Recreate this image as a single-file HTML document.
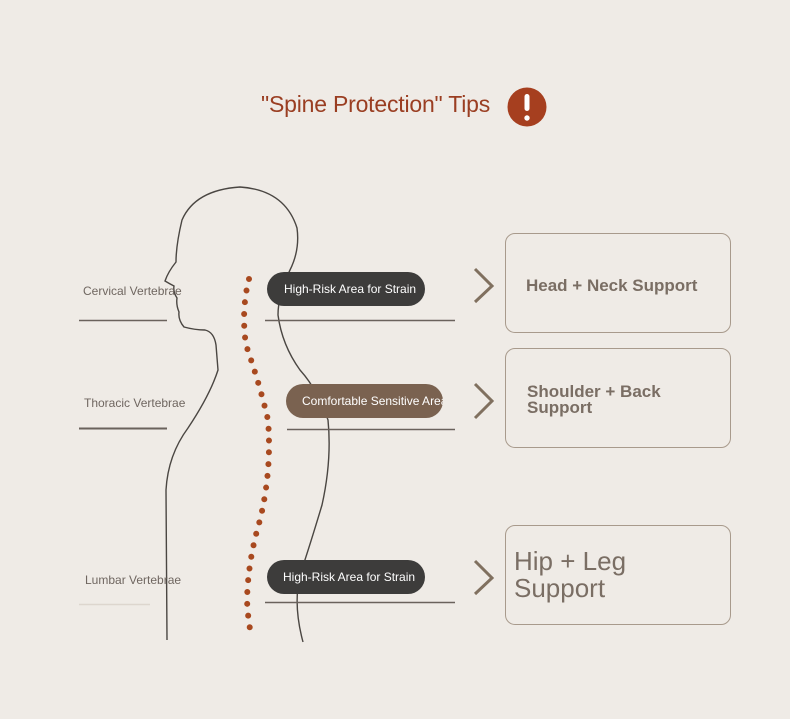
<!DOCTYPE html>
<html><head><meta charset="utf-8"><style>
html,body{margin:0;padding:0;background:#efebe6;}
body{width:790px;height:719px;position:relative;overflow:hidden;font-family:"Liberation Sans",sans-serif;}
.t{position:absolute;}
.lbl{position:absolute;font-size:12px;color:#6f6660;}
.pill{position:absolute;height:34px;border-radius:17px;color:#fff;font-size:12px;line-height:34px;box-sizing:border-box;white-space:nowrap;overflow:hidden;}
.box{position:absolute;left:505px;width:226px;height:100px;border:1.5px solid #a89a8c;border-radius:10px;box-sizing:border-box;color:#7a6e64;font-weight:600;}
</style></head><body>
<div class="t" style="left:261px;top:91px;font-size:23px;letter-spacing:-0.2px;color:#9a3e22;">"Spine Protection" Tips</div>
<svg class="t" style="left:0;top:0" width="790" height="719">
<circle cx="527" cy="107" r="19.5" fill="#a63f1f"/>
<rect x="524.5" y="94" width="5" height="17" rx="2.5" fill="#fff"/>
<circle cx="527" cy="118" r="2.7" fill="#fff"/>
<g fill="none" stroke="#4a4642" stroke-width="1.4">
<path d="M167 640 L166 490 Q168 455 188 428 Q210 395 218 370 L216 345 Q214 332 205 330 Q195 330 184 327 Q178 320 179 312 Q176 305 177 298 Q173 292 174 286 Q170 284 165 281 Q168 272 176 262 Q176 245 182 220 Q195 190 240 187 Q285 190 297 228 Q300 250 290 270 Q278 295 278 315 Q282 345 300 370 Q318 390 328 420 Q332 460 322 505 Q310 545 300 575 Q293 605 303 642"/>
</g>
<path d="M249 279 Q241 310 246 345 Q260 385 268 420 Q272 470 260 520 Q248 560 247 600 Q248 620 251 634" fill="none" stroke="#a8491f" stroke-width="6" stroke-linecap="round" stroke-dasharray="0 11.8"/>
<g stroke="#6a625c" stroke-width="1.5">
<line x1="79" y1="320.5" x2="167" y2="320.5"/>
<line x1="79" y1="428.5" x2="167" y2="428.5" stroke-width="2"/>
<line x1="79" y1="604.5" x2="150" y2="604.5" stroke="#ddd6ce"/>
<line x1="265" y1="320.5" x2="455" y2="320.5"/>
<line x1="287" y1="429.5" x2="455" y2="429.5"/>
<line x1="265" y1="602.5" x2="455" y2="602.5"/>
</g>
<g fill="none" stroke="#80705f" stroke-width="3">
<polyline points="475,269 492,286 475,302"/>
<polyline points="475,384 492,401 475,418"/>
<polyline points="475,561 492,578 475,594"/>
</g>
</svg>
<div class="lbl" style="left:83px;top:284px;">Cervical Vertebrae</div>
<div class="lbl" style="left:84px;top:396px;">Thoracic Vertebrae</div>
<div class="lbl" style="left:85px;top:573px;">Lumbar Vertebrae</div>
<div class="pill" style="left:267px;top:272px;width:158px;background:#3d3c3b;padding-left:17px;">High-Risk Area for Strain</div>
<div class="pill" style="left:286px;top:384px;width:157px;background:#7a6250;padding-left:16px;">Comfortable Sensitive Area</div>
<div class="pill" style="left:267px;top:560px;width:158px;background:#3d3c3b;padding-left:16px;">High-Risk Area for Strain</div>
<div class="box" style="top:233px;"><div class="t" style="left:20px;top:42px;font-size:17px;">Head + Neck Support</div></div>
<div class="box" style="top:348px;"><div class="t" style="left:21px;top:35px;font-size:17px;line-height:16px;">Shoulder + Back<br>Support</div></div>
<div class="box" style="top:525px;"><div class="t" style="left:8px;top:22px;font-size:26px;line-height:27px;font-weight:normal;">Hip + Leg<br>Support</div></div>
</body></html>
